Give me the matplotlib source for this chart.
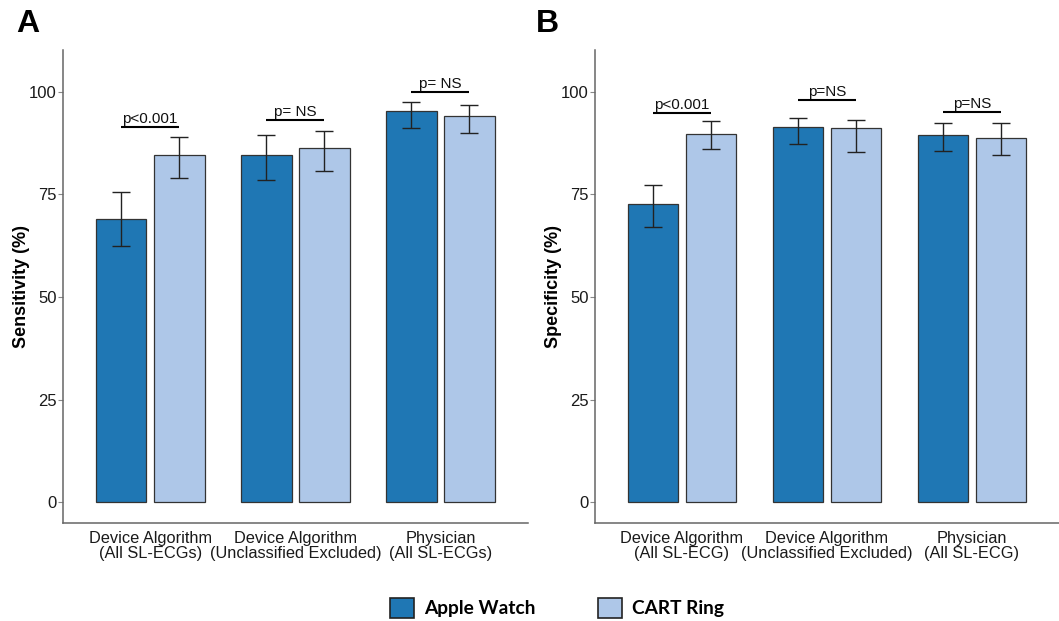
import matplotlib
matplotlib.use("Agg")
import matplotlib.pyplot as plt
from matplotlib.patches import Patch
import numpy as np

plt.rcParams['font.family'] = ['Liberation Sans', 'DejaVu Sans']

groups_A = ["Device Algorithm\n(All SL-ECGs)", "Device Algorithm\n(Unclassified Excluded)", "Physician\n(All SL-ECGs)"]
groups_B = ["Device Algorithm\n(All SL-ECG)", "Device Algorithm\n(Unclassified Excluded)", "Physician\n(All SL-ECG)"]

sens_apple = [69.0, 84.7, 95.4]
sens_apple_lo = [62.4, 78.4, 91.3]
sens_apple_hi = [75.6, 89.4, 97.5]
sens_cart = [84.5, 86.3, 94.2]
sens_cart_lo = [79.0, 80.7, 90.0]
sens_cart_hi = [89.0, 90.4, 96.7]
sens_p = ["p<0.001", "p= NS", "p= NS"]
sens_p_y = [91.5, 93.2, 99.9]

spec_apple = [72.6, 91.5, 89.4]
spec_apple_lo = [67.0, 87.2, 85.5]
spec_apple_hi = [77.3, 93.7, 92.5]
spec_cart = [89.8, 91.1, 88.8]
spec_cart_lo = [86.0, 85.3, 84.7]
spec_cart_hi = [92.9, 93.1, 92.3]
spec_p = ["p<0.001", "p=NS", "p=NS"]
spec_p_y = [94.9, 98.0, 95.2]

yticks = [0, 25, 50, 75, 100]
series_names = ["Apple Watch", "CART Ring"]
c_apple = "#1F77B4"
c_cart = "#AEC7E8"
edge = "#333333"

fig = plt.figure(figsize=(10.59, 6.21), dpi=100)
axA = fig.add_axes([63/1059, 1-523/621, (527.5-63)/1059, (523-50)/621])
axB = fig.add_axes([595/1059, 1-523/621, (1059-595)/1059, (523-50)/621])


def panel(ax, labels, a, alo, ahi, c, clo, chi, pl, py, ylabel):
    x = np.arange(len(labels))
    off = 0.2
    w = 0.35
    a = np.array(a); c = np.array(c)
    ax.bar(x - off, a, w, color=c_apple, edgecolor=edge, linewidth=0.9, zorder=2)
    ax.bar(x + off, c, w, color=c_cart, edgecolor=edge, linewidth=0.9, zorder=2)
    ax.errorbar(x - off, a, yerr=[a - np.array(alo), np.array(ahi) - a], fmt='none',
                ecolor='#222222', elinewidth=1.0, capsize=6.5, capthick=1.0, zorder=3)
    ax.errorbar(x + off, c, yerr=[c - np.array(clo), np.array(chi) - c], fmt='none',
                ecolor='#222222', elinewidth=1.0, capsize=6.5, capthick=1.0, zorder=3)
    for xi, t, yv in zip(x, pl, py):
        ax.plot([xi - off, xi + off], [yv, yv], color='black', lw=1.5, solid_capstyle='butt')
        ax.text(xi, yv + 0.2, t, ha='center', va='bottom', fontsize=11, color='#111111')
    ax.set_xlim(-0.6, len(labels) - 0.4)
    ax.set_ylim(-5.1, 110.2)
    ax.set_xticks(x)
    ax.set_xticklabels(labels, fontsize=11.8, color='#1a1a1a', linespacing=1.0)
    ax.set_yticks(yticks)
    ax.set_yticklabels([str(v) for v in yticks], fontsize=12, color='#1a1a1a')
    ax.tick_params(axis='x', length=0, pad=6)
    ax.tick_params(axis='y', length=3.5, color='#888888', pad=1)
    for s in ['top', 'right']:
        ax.spines[s].set_visible(False)
    for s in ['left', 'bottom']:
        ax.spines[s].set_color('#666666')
        ax.spines[s].set_linewidth(1.1)
    ax.set_ylabel(ylabel, fontsize=13, fontweight='bold', labelpad=-1)


panel(axA, groups_A, sens_apple, sens_apple_lo, sens_apple_hi, sens_cart, sens_cart_lo,
      sens_cart_hi, sens_p, sens_p_y, "Sensitivity (%)")
panel(axB, groups_B, spec_apple, spec_apple_lo, spec_apple_hi, spec_cart, spec_cart_lo,
      spec_cart_hi, spec_p, spec_p_y, "Specificity (%)")

fig.text(16/1059, 1-24/621, "A", fontsize=23, fontweight='bold', va='center', ha='left')
fig.text(536/1059, 1-24/621, "B", fontsize=23, fontweight='bold', va='center', ha='left')

handles = [Patch(facecolor=c_apple, edgecolor='#222222', linewidth=1.2),
           Patch(facecolor=c_cart, edgecolor='#222222', linewidth=1.2)]
fig.legend(handles, series_names, loc='center', bbox_to_anchor=(557/1059, 1-608/621), ncol=2,
           frameon=False, prop={'family': 'Lato', 'weight': 'bold', 'size': 13.8},
           handlelength=1.25, handleheight=1.25, columnspacing=3.3, handletextpad=0.5)

fig.savefig("out.png", dpi=100)
